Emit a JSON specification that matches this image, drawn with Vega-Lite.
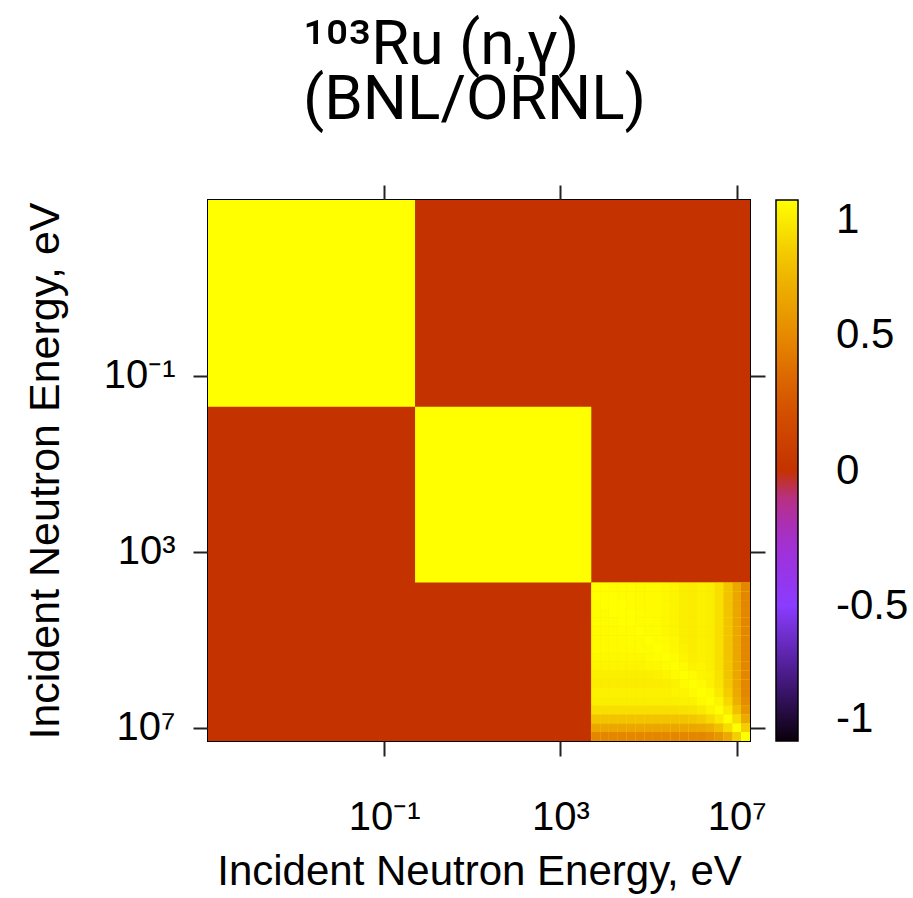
{
  "$schema": "https://vega.github.io/schema/vega-lite/v6.json",
  "width": 542,
  "height": 541,
  "autosize": {"type": "none"},
  "padding": {"left": 208, "top": 200, "right": 163, "bottom": 157},
  "background": "white",
  "config": {
    "font": "Liberation Sans",
    "view": {"stroke": "black", "strokeWidth": 2},
    "axis": {
      "domain": false, "grid": false, "tickColor": "#222", "tickWidth": 2, "tickSize": 15,
      "labelColor": "black", "titleColor": "black", "labelFont": "Liberation Sans", "titleFont": "Liberation Sans",
      "labelFlush": false, "labelOverlap": false
    }
  },
  "title": {
    "text": ["¹⁰³Ru (n,γ)", "(BNL/ORNL)"],
    "fontSize": 62, "font": "Roboto", "fontWeight": "normal", "color": "black",
    "anchor": "start", "frame": "group", "dx": 95, "offset": 52, "lineHeight": 55
  },
  "datasets": {
    "blocks": [
      {"x0": 1e-5, "x1": 2e7, "y0": 1e-5, "y1": 2e7, "v": 0},
      {"x0": 1e-5, "x1": 0.5, "y0": 1e-5, "y1": 0.5, "v": 1},
      {"x0": 0.5, "x1": 5000, "y0": 0.5, "y1": 5000, "v": 1},
      {"x0": 5000, "x1": 2e7, "y0": 5000, "y1": 2e7, "v": 0.9}
    ],
    "groups": [
      {"k": 0, "lo": 5000, "hi": 8000}, {"k": 1, "lo": 8000, "hi": 12500}, {"k": 2, "lo": 12500, "hi": 20000},
      {"k": 3, "lo": 20000, "hi": 31500}, {"k": 4, "lo": 31500, "hi": 50000}, {"k": 5, "lo": 50000, "hi": 80000},
      {"k": 6, "lo": 80000, "hi": 125000}, {"k": 7, "lo": 125000, "hi": 200000}, {"k": 8, "lo": 200000, "hi": 315000},
      {"k": 9, "lo": 315000, "hi": 500000}, {"k": 10, "lo": 500000, "hi": 800000}, {"k": 11, "lo": 800000, "hi": 1250000},
      {"k": 12, "lo": 1250000, "hi": 2000000}, {"k": 13, "lo": 2000000, "hi": 3150000}, {"k": 14, "lo": 3150000, "hi": 5000000},
      {"k": 15, "lo": 5000000, "hi": 8000000}, {"k": 16, "lo": 8000000, "hi": 12500000}, {"k": 17, "lo": 12500000, "hi": 20000000}
    ],
    "cells": [
      {"j": 0, "i": [0,1,2,3,4,5,6,7,8,9,10,11,12,13,14,15,16,17], "v": [1,1,0.99,0.99,0.99,0.98,0.98,0.98,0.97,0.96,0.94,0.93,0.95,0.94,0.88,0.78,0.64,0.48]},
      {"j": 1, "i": [0,1,2,3,4,5,6,7,8,9,10,11,12,13,14,15,16,17], "v": [1,1,1,0.99,0.99,0.98,0.98,0.98,0.97,0.96,0.94,0.93,0.95,0.94,0.88,0.78,0.64,0.48]},
      {"j": 2, "i": [0,1,2,3,4,5,6,7,8,9,10,11,12,13,14,15,16,17], "v": [0.99,1,1,1,0.99,0.98,0.98,0.98,0.97,0.96,0.94,0.93,0.95,0.94,0.88,0.78,0.64,0.48]},
      {"j": 3, "i": [0,1,2,3,4,5,6,7,8,9,10,11,12,13,14,15,16,17], "v": [0.99,0.99,1,1,1,0.99,0.98,0.98,0.97,0.96,0.94,0.93,0.95,0.94,0.88,0.78,0.64,0.48]},
      {"j": 4, "i": [0,1,2,3,4,5,6,7,8,9,10,11,12,13,14,15,16,17], "v": [0.99,0.99,0.99,1,1,0.99,0.99,0.98,0.97,0.96,0.94,0.93,0.95,0.94,0.88,0.78,0.64,0.48]},
      {"j": 5, "i": [0,1,2,3,4,5,6,7,8,9,10,11,12,13,14,15,16,17], "v": [0.98,0.98,0.98,0.99,0.99,1,0.99,0.99,0.97,0.96,0.94,0.93,0.95,0.94,0.88,0.78,0.64,0.48]},
      {"j": 6, "i": [0,1,2,3,4,5,6,7,8,9,10,11,12,13,14,15,16,17], "v": [0.98,0.98,0.98,0.98,0.99,0.99,1,0.99,0.98,0.97,0.94,0.93,0.95,0.94,0.88,0.78,0.64,0.48]},
      {"j": 7, "i": [0,1,2,3,4,5,6,7,8,9,10,11,12,13,14,15,16,17], "v": [0.98,0.98,0.98,0.98,0.98,0.99,0.99,1,0.99,0.97,0.95,0.93,0.95,0.94,0.88,0.78,0.64,0.48]},
      {"j": 8, "i": [0,1,2,3,4,5,6,7,8,9,10,11,12,13,14,15,16,17], "v": [0.97,0.97,0.97,0.97,0.97,0.97,0.98,0.99,1,0.99,0.96,0.94,0.95,0.94,0.88,0.78,0.64,0.48]},
      {"j": 9, "i": [0,1,2,3,4,5,6,7,8,9,10,11,12,13,14,15,16,17], "v": [0.96,0.96,0.96,0.96,0.96,0.96,0.97,0.97,0.99,1,0.98,0.95,0.96,0.94,0.88,0.78,0.64,0.48]},
      {"j": 10, "i": [0,1,2,3,4,5,6,7,8,9,10,11,12,13,14,15,16,17], "v": [0.94,0.94,0.94,0.94,0.94,0.94,0.94,0.95,0.96,0.98,1,0.98,0.96,0.95,0.89,0.78,0.64,0.48]},
      {"j": 11, "i": [0,1,2,3,4,5,6,7,8,9,10,11,12,13,14,15,16,17], "v": [0.93,0.93,0.93,0.93,0.93,0.93,0.93,0.93,0.94,0.95,0.98,1,0.98,0.95,0.90,0.79,0.64,0.48]},
      {"j": 12, "i": [0,1,2,3,4,5,6,7,8,9,10,11,12,13,14,15,16,17], "v": [0.95,0.95,0.95,0.95,0.95,0.95,0.95,0.95,0.95,0.96,0.96,0.98,1,0.98,0.92,0.81,0.66,0.48]},
      {"j": 13, "i": [0,1,2,3,4,5,6,7,8,9,10,11,12,13,14,15,16,17], "v": [0.94,0.94,0.94,0.94,0.94,0.94,0.94,0.94,0.94,0.94,0.95,0.95,0.98,1,0.96,0.86,0.69,0.51]},
      {"j": 14, "i": [0,1,2,3,4,5,6,7,8,9,10,11,12,13,14,15,16,17], "v": [0.88,0.88,0.88,0.88,0.88,0.88,0.88,0.88,0.88,0.88,0.89,0.90,0.92,0.96,1,0.92,0.77,0.56]},
      {"j": 15, "i": [0,1,2,3,4,5,6,7,8,9,10,11,12,13,14,15,16,17], "v": [0.78,0.78,0.78,0.78,0.78,0.78,0.78,0.78,0.78,0.78,0.78,0.79,0.81,0.86,0.92,1,0.87,0.66]},
      {"j": 16, "i": [0,1,2,3,4,5,6,7,8,9,10,11,12,13,14,15,16,17], "v": [0.64,0.64,0.64,0.64,0.64,0.64,0.64,0.64,0.64,0.64,0.64,0.64,0.66,0.69,0.77,0.87,1,0.82]},
      {"j": 17, "i": [0,1,2,3,4,5,6,7,8,9,10,11,12,13,14,15,16,17], "v": [0.48,0.48,0.48,0.48,0.48,0.48,0.48,0.48,0.48,0.48,0.48,0.48,0.48,0.51,0.56,0.66,0.82,1]}
    ]
  },
  "layer": [
    {
      "data": {"name": "blocks"},
      "mark": {"type": "rect"},
      "encoding": {
        "x": {"field": "x0", "type": "quantitative", "scale": {"type": "log", "domain": [1e-5, 2e7], "nice": false},
          "axis": {"orient": "bottom", "values": [0.1, 1000, 10000000],
            "labelExpr": "datum.value < 1 ? '10⁻¹' : datum.value < 10000 ? '10³' : '10⁷'",
            "labelFontSize": 40, "labelPadding": 41, "title": "Incident Neutron Energy, eV",
            "titleFontSize": 42, "titleFontWeight": "normal", "titlePadding": 14}},
        "x2": {"field": "x1"},
        "y": {"field": "y0", "type": "quantitative", "scale": {"type": "log", "domain": [1e-5, 2e7], "nice": false, "reverse": true},
          "axis": {"orient": "left", "values": [0.1, 1000, 10000000],
            "labelExpr": "datum.value < 1 ? '10⁻¹' : datum.value < 10000 ? '10³' : '10⁷'",
            "labelFontSize": 40, "labelPadding": 18, "title": "Incident Neutron Energy, eV",
            "titleFontSize": 43, "titleFontWeight": "normal", "titlePadding": 36}},
        "y2": {"field": "y1"},
        "color": {"field": "v", "type": "quantitative",
          "scale": {"type": "linear", "interpolate": "rgb",
            "domain": [-1, -0.75, -0.5, -0.25, -0.1, -0.02, 0, 0.25, 0.5, 0.75, 1],
            "range": ["#0a000a", "#4b1c8c", "#8a3cff", "#a52ed0", "#b83080", "#c0303a", "#c43200", "#d65400", "#e68a00", "#f0bc00", "#ffff00"]},
          "legend": {"type": "gradient", "orient": "none", "legendX": 568, "legendY": 0, "direction": "vertical",
            "gradientLength": 541, "gradientThickness": 22, "gradientStrokeColor": "black", "gradientStrokeWidth": 1.5,
            "title": null, "values": [-1, -0.5, 0, 0.5, 1], "labelFontSize": 42, "labelOffset": 38,
            "labelColor": "black", "labelBaseline": "middle", "labelAlign": "left", "padding": 0, "labelOverlap": false,
            "labelExpr": "datum.value > 0.9 ? '1' : datum.value > 0.4 ? '0.5' : datum.value > -0.1 ? '0' : datum.value > -0.9 ? '-0.5' : '-1'"}}
      }
    },
    {
      "data": {"name": "cells"},
      "transform": [
        {"flatten": ["i", "v"]},
        {"lookup": "i", "from": {"data": {"name": "groups"}, "key": "k", "fields": ["lo", "hi"]}, "as": ["xlo", "xhi"]},
        {"lookup": "j", "from": {"data": {"name": "groups"}, "key": "k", "fields": ["lo", "hi"]}, "as": ["ylo", "yhi"]}
      ],
      "mark": {"type": "rect"},
      "encoding": {
        "x": {"field": "xlo", "type": "quantitative", "axis": null},
        "x2": {"field": "xhi"},
        "y": {"field": "ylo", "type": "quantitative", "axis": null},
        "y2": {"field": "yhi"},
        "color": {"field": "v", "type": "quantitative"}
      }
    },
    {
      "data": {"name": "blocks"},
      "mark": {"type": "rect", "fillOpacity": 0, "strokeOpacity": 0},
      "encoding": {
        "x": {"field": "x0", "type": "quantitative",
          "axis": {"orient": "top", "values": [0.1, 1000, 10000000], "labels": false, "title": null}},
        "x2": {"field": "x1"},
        "y": {"field": "y0", "type": "quantitative",
          "axis": {"orient": "right", "values": [0.1, 1000, 10000000], "labels": false, "title": null}},
        "y2": {"field": "y1"}
      }
    }
  ],
  "resolve": {"axis": {"x": "independent", "y": "independent"}}
}
